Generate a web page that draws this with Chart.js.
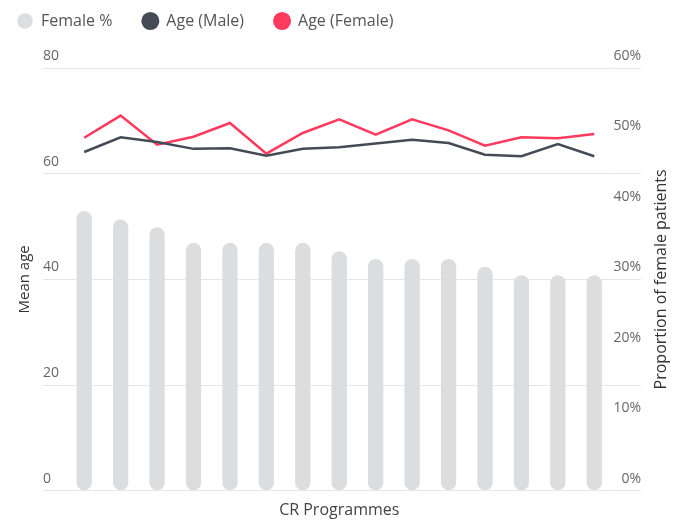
<!DOCTYPE html>
<html>
<head>
<meta charset="utf-8">
<title>Age and proportion of female patients by CR programme</title>
<script src="https://cdn.jsdelivr.net/npm/chart.js@4"></script>
<style>
  html, body { margin: 0; padding: 0; background: #fff; }
  #wrap { width: 682px; height: 520px; }
</style>
</head>
<body>
<div id="wrap"><canvas id="chart"></canvas></div>
<script>
// data
var programmes = ['P1', 'P2', 'P3', 'P4', 'P5', 'P6', 'P7', 'P8', 'P9', 'P10', 'P11', 'P12', 'P13', 'P14', 'P15'];
var femalePct = [39.7, 38.5, 37.4, 35.2, 35.2, 35.2, 35.2, 34.0, 32.9, 32.9, 32.9, 31.8, 30.6, 30.6, 30.6];
var ageMale = [64.1, 66.9, 66.0, 64.7, 64.8, 63.4, 64.7, 65.0, 65.7, 66.4, 65.8, 63.6, 63.3, 65.6, 63.3];
var ageFemale = [66.8, 71.0, 65.5, 67.0, 69.6, 63.8, 67.7, 70.3, 67.4, 70.3, 68.2, 65.3, 66.9, 66.7, 67.5];
var ageMax = 80, ageStep = 20;
var pctMax = 60, pctLabelStep = 10;

var FONT = '"Open Sans", Lato, sans-serif';
var gridColor = '#e6e6e6';

// extra space under the legend
var legendGap = {
  id: 'legendGap',
  beforeInit: function (chart) {
    var fit = chart.legend.fit;
    chart.legend.fit = function () {
      fit.call(this);
      this.height += 29;
    };
  }
};

// right title reads bottom-to-top
var rightTitle = {
  id: 'rightTitle',
  afterDraw: function (chart) {
    var s = chart.scales.yRightTitle;
    var ctx = chart.ctx;
    ctx.save();
    ctx.translate(s.left + s.width / 2, (chart.chartArea.top + chart.chartArea.bottom) / 2);
    ctx.rotate(-Math.PI / 2);
    ctx.font = '16px ' + FONT;
    ctx.fillStyle = '#333';
    ctx.textAlign = 'center';
    ctx.textBaseline = 'middle';
    ctx.fillText('Proportion of female patients', 0, 0);
    ctx.restore();
  }
};

var ctx = document.getElementById('chart').getContext('2d');
var chart = new Chart(ctx, {
  type: 'bar',
  data: {
    labels: programmes,
    datasets: [{
      type: 'bar',
      label: 'Female %',
      data: femalePct,
      yAxisID: 'yR',
      backgroundColor: '#dcdddf',
      borderWidth: 0,
      borderRadius: 8,
      borderSkipped: false,
      barPercentage: 0.42,
      categoryPercentage: 1
    }, {
      type: 'line',
      label: 'Age (Male)',
      data: ageMale,
      yAxisID: 'y',
      borderColor: '#454b56',
      backgroundColor: '#454b56',
      borderWidth: 2.5,
      pointRadius: 0,
      tension: 0
    }, {
      type: 'line',
      label: 'Age (Female)',
      data: ageFemale,
      yAxisID: 'y',
      borderColor: '#fe3a5e',
      backgroundColor: '#fe3a5e',
      borderWidth: 2.5,
      pointRadius: 0,
      tension: 0
    }]
  },
  options: {
    responsive: true,
    maintainAspectRatio: false,
    animation: false,
    layout: { padding: { top: -17, left: -13, right: 0, bottom: 0 } },
    plugins: {
      legend: {
        position: 'top',
        align: 'start',
        labels: {
          usePointStyle: true,
          pointStyle: 'circle',
          boxWidth: 16,
          boxHeight: 11,
          padding: 30,
          color: '#555',
          font: { family: FONT, size: 16 }
        }
      },
      tooltip: { enabled: false }
    },
    scales: {
      x: {
        offset: true,
        grid: { display: false, drawTicks: false },
        border: { display: false },
        ticks: { display: false },
        title: {
          display: true,
          text: 'CR Programmes',
          color: '#444',
          font: { family: FONT, size: 16 },
          padding: { top: 10, bottom: 0 }
        }
      },
      yLeftTitle: {
        position: 'left',
        weight: 10,
        grid: { display: false, drawTicks: false },
        border: { display: false },
        ticks: { display: false },
        title: {
          display: true,
          text: 'Mean age',
          color: '#333',
          font: { family: FONT, size: 15 },
          padding: { top: 29, bottom: 9 }
        }
      },
      y: {
        position: 'left',
        weight: 0,
        min: 0,
        max: ageMax,
        afterFit: function (scale) { scale.width = 23; },
        grid: { color: gridColor, tickLength: 23, drawTicks: true },
        border: { display: false },
        ticks: {
          stepSize: ageStep,
          crossAlign: 'far',
          labelOffset: -12,
          color: '#666',
          font: { family: FONT, size: 14 }
        }
      },
      yR: {
        position: 'right',
        weight: 0,
        min: 0,
        max: pctMax,
        afterFit: function (scale) { scale.width = 28.5; },
        grid: {
          drawOnChartArea: false,
          drawTicks: true,
          tickLength: 28.5,
          color: function (c) {
            return c.tick && c.tick.value % (pctMax / 4) === 0 ? gridColor : 'rgba(0,0,0,0)';
          }
        },
        border: { display: false },
        ticks: {
          stepSize: 5,
          autoSkip: false,
          crossAlign: 'far',
          labelOffset: -12,
          color: '#666',
          font: { family: FONT, size: 14 },
          callback: function (v) { return v % pctLabelStep === 0 ? v + '%' : ''; }
        }
      },
      yRightTitle: {
        position: 'right',
        weight: 10,
        afterFit: function (scale) { scale.width = 41; },
        grid: { display: false, drawTicks: false },
        border: { display: false },
        ticks: { display: false }
      }
    }
  },
  plugins: [legendGap, rightTitle]
});
</script>
</body>
</html>
